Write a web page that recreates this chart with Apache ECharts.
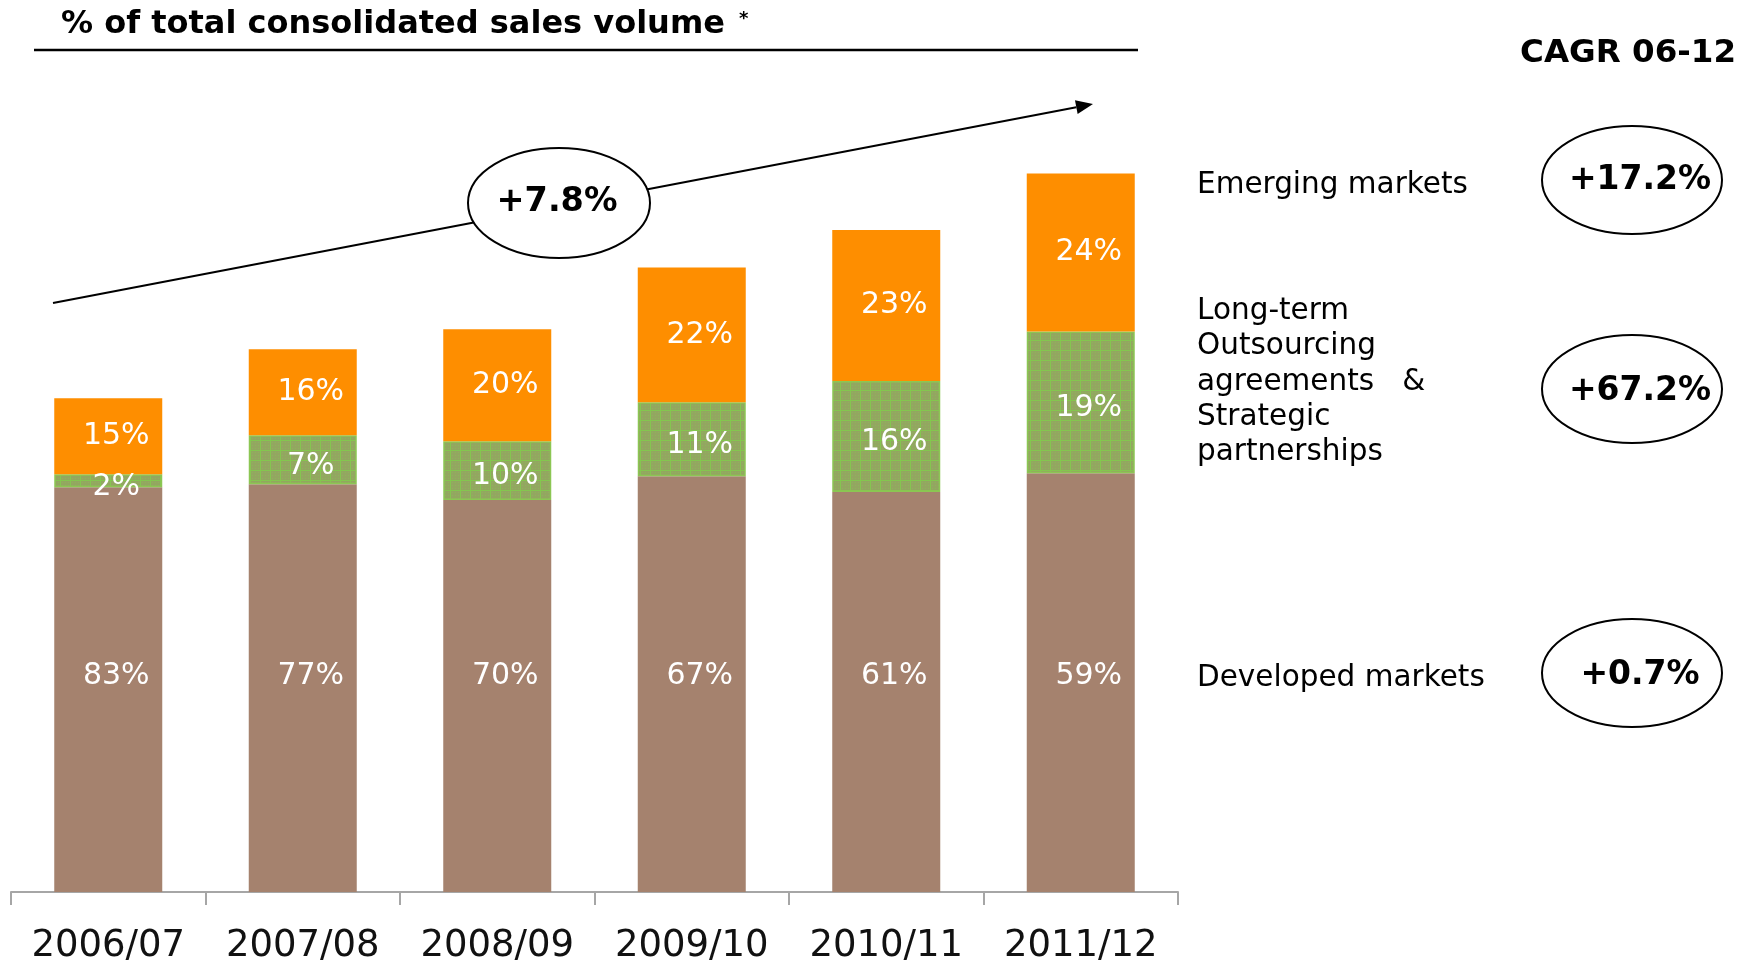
<!DOCTYPE html>
<html>
<head>
<meta charset="utf-8">
<script src="https://cdn.jsdelivr.net/npm/echarts@6/dist/echarts.min.js"></script>
<style>
html,body{margin:0;padding:0;background:#fff;}
#chart{width:1753px;height:960px;}
</style>
</head>
<body>
<div id="chart"></div>
<script>
// Categories
const categories = ['2006/07', '2007/08', '2008/09', '2009/10', '2010/11', '2011/12'];
// Volume (index, 2006/07 total = 100)
const developedVol = [82.0, 82.6, 79.4, 84.2, 81.0, 84.8];
const outsourcingVol = [2.6, 9.9, 11.9, 15.0, 22.5, 28.7];
const emergingVol = [15.4, 17.4, 22.7, 27.3, 30.6, 32.0];
// Share labels (% of total)
const developedShare = [83, 77, 70, 67, 61, 59];
const outsourcingShare = [2, 7, 10, 11, 16, 19];
const emergingShare = [15, 16, 20, 22, 23, 24];
// CAGR annotations
const cagrTotal = '+7.8%';
const cagrLabels = ['Emerging markets', 'Long-term\nOutsourcing\nagreements\u00a0\u00a0\u00a0&\nStrategic\npartnerships', 'Developed markets'];
const cagrValues = ['+17.2%', '+67.2%', '+0.7%'];

const FONT = 'DejaVu Sans';

// green cross-hatch pattern
const pc = document.createElement('canvas');
pc.width = 10; pc.height = 10;
const pctx = pc.getContext('2d');
pctx.fillStyle = '#93a661';
pctx.fillRect(0, 0, 10, 10);
pctx.fillStyle = '#84c64f';
pctx.fillRect(0, 0, 10, 1);
pctx.fillRect(0, 0, 1, 10);
pctx.fillStyle = '#8db659';
for (let i = 2; i < 10; i += 3) { for (let j = 2; j < 10; j += 3) { pctx.fillRect(i, j, 1, 1); } }

const chart = echarts.init(document.getElementById('chart'), null, {renderer: 'canvas'});

function lbl(shares, position, offset) {
  return {
    show: true, position: position, offset: offset,
    color: '#fff', fontFamily: FONT, fontSize: 30,
    formatter: p => shares[p.dataIndex] + '%'
  };
}

// arrow geometry
const ax0 = 53, ay0 = 303, ax1 = 1093, ay1 = 104;
const ang = Math.atan2(ay1 - ay0, ax1 - ax0);
const ahL = 17, ahW = 7;
const bx = ax1 - ahL * Math.cos(ang), by = ay1 - ahL * Math.sin(ang);
const arrowHead = [[ax1, ay1],
  [bx + ahW * Math.sin(ang), by - ahW * Math.cos(ang)],
  [bx - ahW * Math.sin(ang), by + ahW * Math.cos(ang)]];

const rightEllipseY = [180, 389, 673];
const rightTextY = [180, 391, 675];
const labelY = [185, 382, 678];

const graphics = [
  {type: 'text', left: 61, top: 9, style: {text: '% of total consolidated sales volume', font: 'bold 32px ' + FONT, fill: '#000'}},
  {type: 'text', x: 739, y: 10, style: {text: '*', font: 'bold 18px ' + FONT, fill: '#000'}},
  {type: 'line', shape: {x1: 34, y1: 50, x2: 1138, y2: 50}, style: {stroke: '#000', lineWidth: 2.5}},
  {type: 'text', x: 1736, y: 54, style: {text: 'CAGR 06-12', font: 'bold 32.5px ' + FONT, fill: '#000', align: 'right', verticalAlign: 'middle'}},
  {type: 'line', shape: {x1: ax0, y1: ay0, x2: bx, y2: by}, style: {stroke: '#000', lineWidth: 2}, z: 10},
  {type: 'polygon', shape: {points: arrowHead}, style: {fill: '#000'}, z: 10},
  {type: 'ellipse', shape: {cx: 559, cy: 203, rx: 91, ry: 55}, style: {fill: '#fff', stroke: '#000', lineWidth: 2}, z: 11},
  {type: 'text', x: 557, y: 202, style: {text: cagrTotal, font: 'bold 33.5px ' + FONT, fill: '#000', align: 'center', verticalAlign: 'middle'}, z: 12}
];
for (let i = 0; i < 3; i++) {
  graphics.push({type: 'ellipse', shape: {cx: 1632, cy: rightEllipseY[i], rx: 90, ry: 54}, style: {fill: '#fff', stroke: '#000', lineWidth: 2}, z: 11});
  graphics.push({type: 'text', x: 1640, y: rightTextY[i], style: {text: cagrValues[i], font: 'bold 33px ' + FONT, fill: '#000', align: 'center', verticalAlign: 'middle'}, z: 12});
  graphics.push({type: 'text', x: 1197, y: labelY[i], style: {text: cagrLabels[i], font: '29.5px ' + FONT, fill: '#000', align: 'left', verticalAlign: 'middle', lineHeight: 35.2}, z: 12});
}

chart.setOption({
  animation: false,
  backgroundColor: '#fff',
  grid: {left: 11, right: 575, top: 102, bottom: 68, containLabel: false, outerBoundsMode: 'none'},
  xAxis: {
    type: 'category', data: categories,
    axisLine: {lineStyle: {color: '#a6a6a6', width: 2}},
    axisTick: {show: true, length: 13, lineStyle: {color: '#a6a6a6', width: 2}},
    axisLabel: {interval: 0, fontFamily: FONT, fontSize: 37, color: '#111', margin: 36}
  },
  yAxis: {type: 'value', min: 0, max: 160, show: false, splitLine: {show: false}},
  series: [
    {name: 'Developed markets', type: 'bar', stack: 'v', barWidth: 108, data: developedVol,
      itemStyle: {color: '#a5826e'}, label: lbl(developedShare, 'insideBottom', [8, -196])},
    {name: 'Long-term Outsourcing agreements & Strategic partnerships', type: 'bar', stack: 'v', barWidth: 108, data: outsourcingVol,
      itemStyle: {color: {image: pc, repeat: 'repeat'}, borderColor: '#8cc653', borderWidth: 1.5}, label: lbl(outsourcingShare, 'inside', [8, 6])},
    {name: 'Emerging markets', type: 'bar', stack: 'v', barWidth: 108, data: emergingVol,
      itemStyle: {color: '#fe8e00'}, label: lbl(emergingShare, 'inside', [8, 0])}
  ],
  graphic: graphics
});
</script>
</body>
</html>
